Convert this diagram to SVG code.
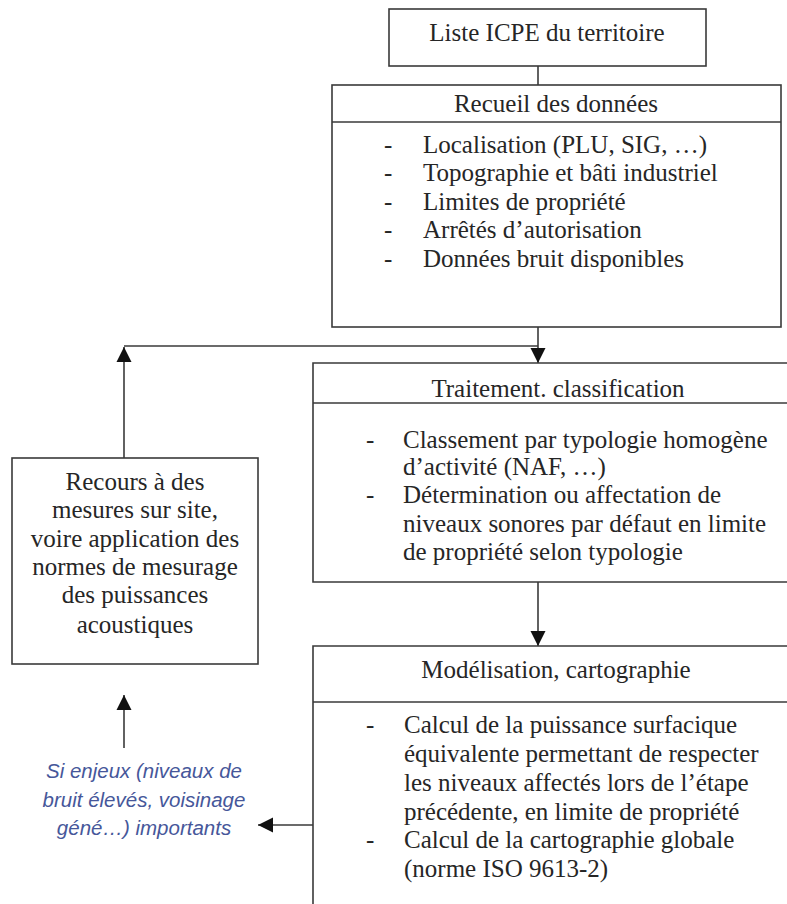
<svg xmlns="http://www.w3.org/2000/svg" width="787" height="904" viewBox="0 0 787 904">
  <defs>
    <style>
      .box { fill: #ffffff; stroke: #3a3a3a; stroke-width: 1.6; }
      .ln { fill: none; stroke: #3a3a3a; stroke-width: 1.6; }
      .t { font-family: "Liberation Serif", "Times New Roman", serif; font-size: 25px; fill: #262626; }
      .c { text-anchor: middle; }
      .note { font-family: "Liberation Sans", Arial, sans-serif; font-size: 20.5px; font-style: italic; fill: #46579a; text-anchor: middle; }
    </style>
    <marker id="arrow" viewBox="0 0 10 10" refX="10" refY="5" markerWidth="15" markerHeight="16" markerUnits="userSpaceOnUse" orient="auto">
      <path d="M0,0 L10,5 L0,10 z" fill="#111111"/>
    </marker>
  </defs>
  <rect width="787" height="904" fill="#ffffff"/>

  <g id="connectors">
    <path class="ln" d="M538,66 V85"/>
    <path class="ln" d="M538,327 V363" marker-end="url(#arrow)"/>
    <path class="ln" d="M124,346 H538"/>
    <path class="ln" d="M124,458 V347" marker-end="url(#arrow)"/>
    <path class="ln" d="M538,582 V646" marker-end="url(#arrow)"/>
    <path class="ln" d="M124,748 V695" marker-end="url(#arrow)"/>
    <path class="ln" d="M313,825 H258" marker-end="url(#arrow)"/>
  </g>

  <g id="liste-icpe">
    <rect class="box" x="389" y="9" width="317" height="57"/>
    <text class="t c" x="547" y="41">Liste ICPE du territoire</text>
  </g>

  <g id="recueil">
    <rect class="box" x="332" y="85" width="449" height="242"/>
    <path class="ln" d="M332,122 H781"/>
    <text class="t c" x="556" y="112">Recueil des données</text>
    <text class="t" x="384" y="153">-</text><text class="t" x="423" y="153">Localisation (PLU, SIG, …)</text>
    <text class="t" x="384" y="181">-</text><text class="t" x="423" y="181">Topographie et bâti industriel</text>
    <text class="t" x="384" y="210">-</text><text class="t" x="423" y="210">Limites de propriété</text>
    <text class="t" x="384" y="238">-</text><text class="t" x="423" y="238">Arrêtés d’autorisation</text>
    <text class="t" x="384" y="267">-</text><text class="t" x="423" y="267">Données bruit disponibles</text>
  </g>

  <g id="traitement">
    <path class="box" d="M790,363 H313 V582 H790"/>
    <path class="ln" d="M313,403 H790"/>
    <text class="t c" x="558" y="397">Traitement. classification</text>
    <text class="t" x="366" y="448">-</text><text class="t" x="403" y="448">Classement par typologie homogène</text>
    <text class="t" x="403" y="475">d’activité (NAF, …)</text>
    <text class="t" x="366" y="503">-</text><text class="t" x="403" y="503">Détermination ou affectation de</text>
    <text class="t" x="403" y="532">niveaux sonores par défaut en limite</text>
    <text class="t" x="403" y="560">de propriété selon typologie</text>
  </g>

  <g id="recours">
    <rect class="box" x="12" y="458" width="246" height="206"/>
    <text class="t c" x="135" y="490">Recours à des</text>
    <text class="t c" x="135" y="518">mesures sur site,</text>
    <text class="t c" x="135" y="547">voire application des</text>
    <text class="t c" x="135" y="575">normes de mesurage</text>
    <text class="t c" x="135" y="603">des puissances</text>
    <text class="t c" x="135" y="633">acoustiques</text>
  </g>

  <g id="modelisation">
    <path class="box" d="M790,646 H313 V910"/>
    <path class="ln" d="M313,702 H790"/>
    <text class="t c" x="556" y="678">Modélisation, cartographie</text>
    <text class="t" x="366" y="733">-</text><text class="t" x="404" y="733">Calcul de la puissance surfacique</text>
    <text class="t" x="404" y="762">équivalente permettant de respecter</text>
    <text class="t" x="404" y="791">les niveaux affectés lors de l’étape</text>
    <text class="t" x="404" y="820">précédente, en limite de propriété</text>
    <text class="t" x="366" y="848">-</text><text class="t" x="404" y="848">Calcul de la cartographie globale</text>
    <text class="t" x="404" y="877">(norme ISO 9613-2)</text>
  </g>

  <g id="condition">
    <text class="note" x="144" y="778">Si enjeux (niveaux de</text>
    <text class="note" x="144" y="807">bruit élevés, voisinage</text>
    <text class="note" x="144" y="835">géné…) importants</text>
  </g>
</svg>
